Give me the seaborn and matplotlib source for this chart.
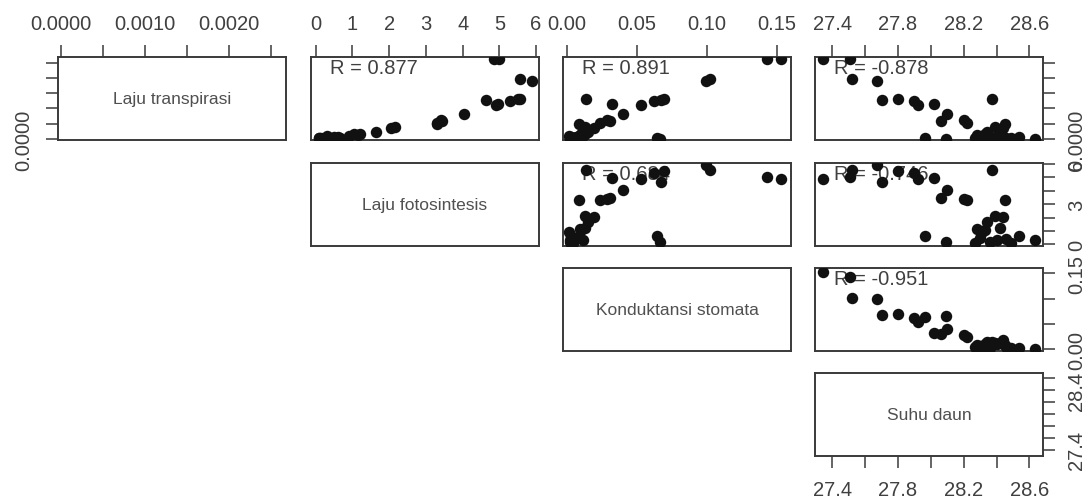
import numpy as np
import pandas as pd
import seaborn as sns
import matplotlib.pyplot as plt

# ---- data (one row per observation) ----
suhu_daun = [27.345, 27.51, 27.52, 27.67, 27.70, 27.80, 27.90, 27.92, 27.965, 28.02,
             28.09, 28.06, 28.10, 28.20, 28.22, 28.37, 28.45, 28.39, 28.34, 28.28,
             28.535, 28.636, 28.27, 28.30, 28.33, 28.36, 28.40, 28.42, 28.46, 28.49,
             28.44, 28.31]
laju_transpirasi = [0.00261, 0.00263, 0.00195, 0.00188, 0.00128, 0.00132, 0.00125, 0.00111, 0.00004, 0.00113,
                    0.00001, 0.00059, 0.00083, 0.00061, 0.00053, 0.00132, 0.00050, 0.00040, 0.00022, 0.00013,
                    0.00005, 0.00001, 0.00003, 0.00006, 0.00015, 0.00002, 0.00008, 0.00017, 0.00004, 0.00002,
                    0.00037, 0.00010]
laju_fotosintesis = [4.85, 5.0, 5.55, 5.9, 4.65, 5.5, 5.3, 4.9, 0.65, 4.95,
                     0.2, 3.45, 4.05, 3.4, 3.3, 5.55, 3.3, 2.15, 1.65, 1.15,
                     0.6, 0.3, 0.1, 0.5, 1.05, 0.15, 0.3, 1.2, 0.4, 0.1,
                     2.05, 0.9]
konduktansi_stomata = [0.153, 0.143, 0.102, 0.099, 0.067, 0.069, 0.062, 0.053, 0.064, 0.032,
                       0.066, 0.0305, 0.040, 0.0285, 0.0238, 0.0138, 0.0084, 0.013, 0.015, 0.009,
                       0.003, 0.0017, 0.004, 0.006, 0.010, 0.002, 0.011, 0.0125, 0.005, 0.003,
                       0.019, 0.001]

var_labels = ["Laju transpirasi", "Laju fotosintesis", "Konduktansi stomata", "Suhu daun"]
r_labels = {(0, 1): "R = 0.877", (0, 2): "R = 0.891", (0, 3): "R = -0.878",
            (1, 2): "R = 0.684", (1, 3): "R = -0.746", (2, 3): "R = -0.951"}

transp_ticks = [0, 0.0005, 0.001, 0.0015, 0.002, 0.0025]
foto_ticks = [0, 1, 2, 3, 4, 5, 6]
kond_ticks = [0, 0.05, 0.10, 0.15]
suhu_ticks = [27.4, 27.6, 27.8, 28.0, 28.2, 28.4, 28.6]

transp_top_labels = ["0.0000", "", "0.0010", "", "0.0020", ""]
transp_side_labels = ["0.0000", "", "", "", "", ""]
foto_top_labels = ["0", "1", "2", "3", "4", "5", "6"]
foto_side_labels = ["0", "", "", "3", "", "", "6"]
kond_top_labels = ["0.00", "0.05", "0.10", "0.15"]
kond_side_labels = ["0.00", "", "", "0.15"]
suhu_top_labels = ["27.4", "", "27.8", "", "28.2", "", "28.6"]
suhu_side_labels = ["27.4", "", "", "", "", "28.4", ""]

df = pd.DataFrame({"Laju transpirasi": laju_transpirasi,
                   "Laju fotosintesis": laju_fotosintesis,
                   "Konduktansi stomata": konduktansi_stomata,
                   "Suhu daun": suhu_daun})

limits = [(-0.000035, 0.00268), (-0.13, 6.08), (-0.003, 0.160), (27.294, 28.683)]
ticks = [transp_ticks, foto_ticks, kond_ticks, suhu_ticks]
top_labels = [transp_top_labels, foto_top_labels, kond_top_labels, suhu_top_labels]
side_labels = [transp_side_labels, foto_side_labels, kond_side_labels, suhu_side_labels]

sns.set_theme(style="white")
plt.rcParams["font.family"] = ["Liberation Sans", "DejaVu Sans"]

W, H = 1091, 502
fig = plt.figure(figsize=(W / 100, H / 100), dpi=100)
fig.patch.set_facecolor("white")

col_left = [58, 311, 563, 815]
row_top = [58, 164, 269, 374]
pw, ph = 228, 83

text_col = "#404040"
spine_col = "#3a3a3a"
tick_kw = dict(direction="out", length=8.5, width=1.1, color=spine_col,
               labelsize=14.5, labelcolor=text_col, pad=9)

for i in range(4):
    for j in range(i, 4):
        ax = fig.add_axes([col_left[j] / W, 1 - (row_top[i] + ph) / H, pw / W, ph / H])
        ax.set_facecolor("white")
        for sp in ax.spines.values():
            sp.set_visible(True)
            sp.set_color(spine_col)
            sp.set_linewidth(1.4)
        ax.set_xlim(limits[j])
        ax.set_ylim(limits[i])
        if i == j:
            ax.text(0.5, 0.5, var_labels[i], transform=ax.transAxes, ha="center", va="center",
                    fontsize=12.5, color="#505050")
        else:
            ax.text(0.085, 0.87, r_labels[(i, j)], transform=ax.transAxes, ha="left", va="center",
                    fontsize=14.5, color=text_col, zorder=1)
            sns.scatterplot(data=df, x=var_labels[j], y=var_labels[i], ax=ax, color="#111111",
                            s=68, linewidth=0, zorder=3, legend=False)
        ax.set_xlabel("")
        ax.set_ylabel("")
        ax.tick_params(axis="both", which="both", **tick_kw)

        # x axis ticks
        if i == 0:
            ax.xaxis.set_ticks_position("top")
            ax.set_xticks(ticks[j])
            ax.set_xticklabels(top_labels[j])
        elif i == 3 and j == 3:
            ax.xaxis.set_ticks_position("bottom")
            ax.set_xticks(ticks[j])
            ax.set_xticklabels(top_labels[j])
        else:
            ax.set_xticks([])

        # y axis ticks
        if j == 3:
            ax.yaxis.set_ticks_position("right")
            ax.set_yticks(ticks[i])
            ax.set_yticklabels(side_labels[i], rotation=90, va="center")
        elif i == 0 and j == 0:
            ax.yaxis.set_ticks_position("left")
            ax.set_yticks(ticks[i])
            ax.set_yticklabels(side_labels[i], rotation=90, va="center")
        else:
            ax.set_yticks([])

fig.savefig("out.png", dpi=100, facecolor="white")
